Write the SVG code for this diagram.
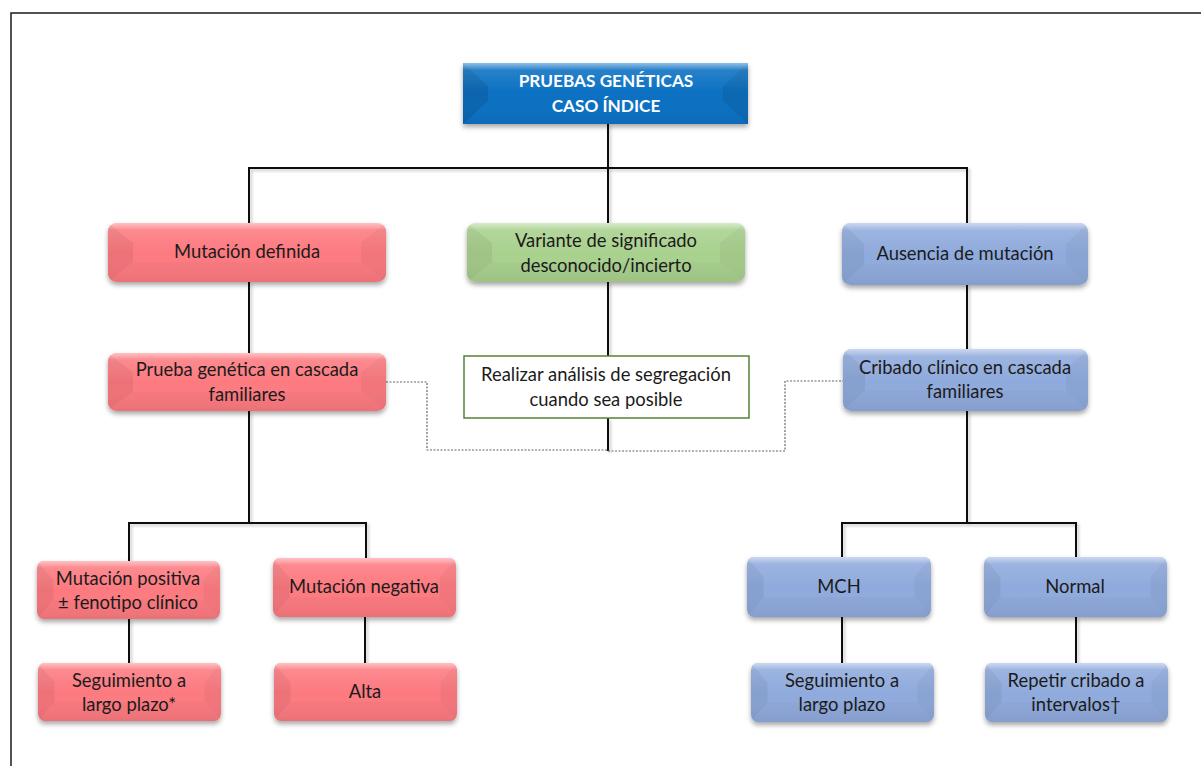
<svg xmlns="http://www.w3.org/2000/svg" xmlns:xlink="http://www.w3.org/1999/xlink" width="1201" height="766" viewBox="0 0 1201 766">
<style>
  .t{font-family:Lato,"Liberation Sans",sans-serif;font-size:18.4px;fill:#1b1b1b;text-anchor:middle}
  .tt{font-family:Lato,"Liberation Sans",sans-serif;font-size:17.2px;font-weight:700;fill:#fff;text-anchor:middle}
  .ln{fill:none;stroke:#111;stroke-width:2}
  .dot{fill:none;stroke:#666;stroke-width:1.2;stroke-dasharray:2 1.5}
  .red{color:#FC7A80}
  .grn{color:#A9D18E}
  .blu{color:#8FAADC}
</style>
<defs>
  <filter id="sh" x="-10%" y="-20%" width="120%" height="150%">
    <feDropShadow dx="0" dy="3" stdDeviation="2.5" flood-color="#000" flood-opacity="0.35"/>
  </filter>
  <filter id="lsh" x="-5%" y="-5%" width="110%" height="110%">
    <feDropShadow dx="2" dy="2" stdDeviation="1.5" flood-color="#000" flood-opacity="0.22"/>
  </filter>
  <linearGradient id="gloss" x1="0" y1="0" x2="0" y2="1">
    <stop offset="0" stop-color="#fff" stop-opacity="0.55"/>
    <stop offset="0.12" stop-color="#fff" stop-opacity="0.12"/>
    <stop offset="0.5" stop-color="#fff" stop-opacity="0"/>
    <stop offset="1" stop-color="#000" stop-opacity="0.05"/>
  </linearGradient>
  <clipPath id="bvc"><rect width="200" height="60" rx="7" ry="8"/></clipPath>
  <!-- bevelled rounded box, coloured through currentColor -->
  <symbol id="bev" viewBox="0 0 200 60" preserveAspectRatio="none">
    <g clip-path="url(#bvc)">
      <rect width="200" height="60" fill="currentColor"/>
      <polygon points="0,0 18,20 18,40 0,60" fill="#000" fill-opacity="0.06"/>
      <polygon points="200,0 182,20 182,40 200,60" fill="#000" fill-opacity="0.04"/>
      <polygon points="0,60 18,40 182,40 200,60" fill="#000" fill-opacity="0.02"/>
      <rect width="200" height="60" fill="url(#gloss)"/>
    </g>
  </symbol>
</defs>

<rect width="1201" height="766" fill="#fff"/>
<path d="M11,766 V13 H1201" fill="none" stroke="#1a1a1a" stroke-width="1.5"/>

<!-- connectors -->
<g id="connectors">
  <g filter="url(#lsh)">
    <path class="ln" d="M608,124 V223"/>
    <path class="ln" d="M249,223 V168 H967 V223"/>
    <path class="ln" d="M608,282 V356"/>
    <path class="ln" d="M608,418 V451"/>
    <path class="ln" d="M249,282 V353"/>
    <path class="ln" d="M249,411 V523"/>
    <path class="ln" d="M129,561 V523 H366 V558"/>
    <path class="ln" d="M129,619 V663"/>
    <path class="ln" d="M365,617 V663"/>
    <path class="ln" d="M967,285 V349"/>
    <path class="ln" d="M967,411 V523"/>
    <path class="ln" d="M842,557 V523 H1076 V557"/>
    <path class="ln" d="M842,617 V663"/>
    <path class="ln" d="M1076,617 V663"/>
  </g>
  <path class="dot" d="M386,382 H427 V450 H608"/>
  <path class="dot" d="M608,451 H785 V381 H843"/>
</g>

<!-- root -->
<g id="n-root">
  <g filter="url(#sh)">
    <rect x="463" y="63" width="285" height="61" fill="#0A70C2"/>
    <polygon points="463,63 488,86 488,101 463,124" fill="#000" fill-opacity="0.1"/>
    <polygon points="748,63 723,86 723,101 748,124" fill="#000" fill-opacity="0.08"/>
    <rect x="463" y="63" width="285" height="61" fill="url(#gloss)"/>
  </g>
  <text class="tt" x="606" y="87">PRUEBAS GENÉTICAS</text>
  <text class="tt" x="606" y="112">CASO ÍNDICE</text>
</g>

<!-- first level -->
<g id="n-mut-def" class="red">
  <use xlink:href="#bev" x="108" y="223" width="278" height="59" filter="url(#sh)"/>
  <text class="t" x="247" y="258">Mutación definida</text>
</g>
<g id="n-vsd" class="grn">
  <use xlink:href="#bev" x="467" y="223" width="278" height="59" filter="url(#sh)"/>
  <text class="t" x="606" y="247">Variante de significado</text>
  <text class="t" x="606" y="272">desconocido/incierto</text>
</g>
<g id="n-ausencia" class="blu">
  <use xlink:href="#bev" x="842" y="223" width="246" height="62" filter="url(#sh)"/>
  <text class="t" x="965" y="260">Ausencia de mutación</text>
</g>

<!-- second level -->
<g id="n-prueba-cascada" class="red">
  <use xlink:href="#bev" x="108" y="353" width="278" height="58" filter="url(#sh)"/>
  <text class="t" x="247" y="376">Prueba genética en cascada</text>
  <text class="t" x="247" y="401">familiares</text>
</g>
<g id="n-segregacion">
  <rect x="464" y="356" width="285" height="62" fill="#fff" stroke="#548235" stroke-width="1.5"/>
  <text class="t" x="606" y="381">Realizar análisis de segregación</text>
  <text class="t" x="606" y="406">cuando sea posible</text>
</g>
<g id="n-cribado-cascada" class="blu">
  <use xlink:href="#bev" x="843" y="349" width="245" height="62" filter="url(#sh)"/>
  <text class="t" x="965" y="374">Cribado clínico en cascada</text>
  <text class="t" x="965" y="398">familiares</text>
</g>

<!-- third level -->
<g id="n-mut-pos" class="red">
  <use xlink:href="#bev" x="37" y="561" width="183" height="58" filter="url(#sh)"/>
  <text class="t" x="128" y="585">Mutación positiva</text>
  <text class="t" x="128" y="609">± fenotipo clínico</text>
</g>
<g id="n-mut-neg" class="red">
  <use xlink:href="#bev" x="273" y="558" width="183" height="59" filter="url(#sh)"/>
  <text class="t" x="364" y="593">Mutación negativa</text>
</g>
<g id="n-mch" class="blu">
  <use xlink:href="#bev" x="747" y="557" width="184" height="60" filter="url(#sh)"/>
  <text class="t" x="839" y="593">MCH</text>
</g>
<g id="n-normal" class="blu">
  <use xlink:href="#bev" x="984" y="557" width="183" height="60" filter="url(#sh)"/>
  <text class="t" x="1075" y="593">Normal</text>
</g>

<!-- fourth level -->
<g id="n-seg-largo" class="red">
  <use xlink:href="#bev" x="38" y="663" width="183" height="58" filter="url(#sh)"/>
  <text class="t" x="129" y="687">Seguimiento a</text>
  <text class="t" x="129" y="711">largo plazo*</text>
</g>
<g id="n-alta" class="red">
  <use xlink:href="#bev" x="274" y="663" width="183" height="58" filter="url(#sh)"/>
  <text class="t" x="365" y="698">Alta</text>
</g>
<g id="n-seg-largo-2" class="blu">
  <use xlink:href="#bev" x="751" y="663" width="183" height="59" filter="url(#sh)"/>
  <text class="t" x="842" y="687">Seguimiento a</text>
  <text class="t" x="842" y="711">largo plazo</text>
</g>
<g id="n-repetir" class="blu">
  <use xlink:href="#bev" x="985" y="663" width="183" height="59" filter="url(#sh)"/>
  <text class="t" x="1076" y="687">Repetir cribado a</text>
  <text class="t" x="1076" y="711">intervalos†</text>
</g>
</svg>
